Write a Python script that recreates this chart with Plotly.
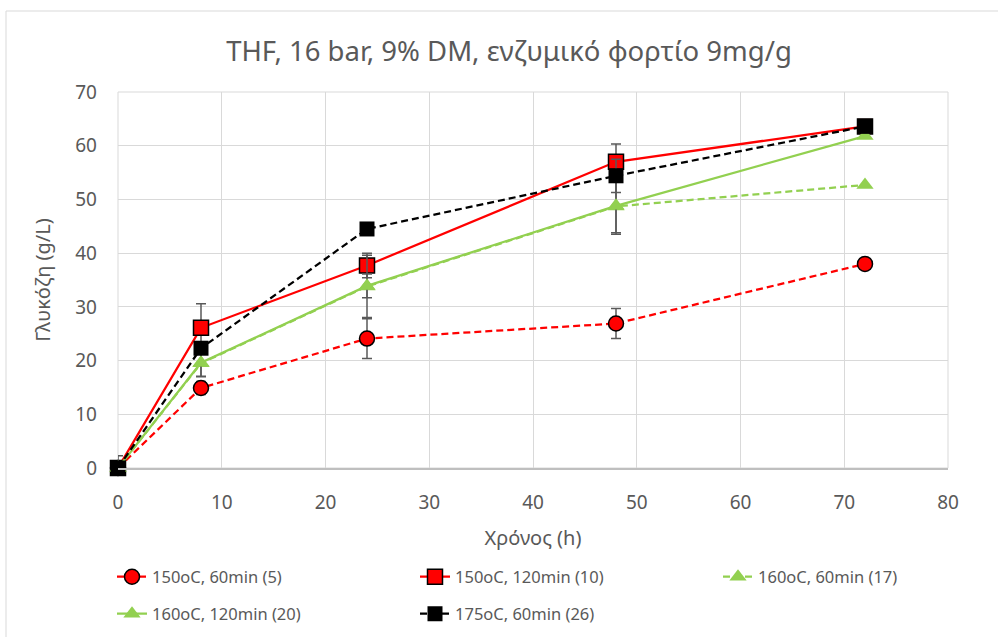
import plotly.graph_objects as go

hours = [0, 8, 24, 48, 72]

names = ["150oC, 60min (5)", "150oC, 120min (10)", "160oC, 60min (17)",
         "160oC, 120min (20)", "175oC, 60min (26)"]

glc_150_60 = [0, 14.9, 24.1, 26.9, 38.0]
err_150_60 = [0.5, 1.2, 3.7, 2.8, 0]
glc_150_120 = [0, 26.1, 37.7, 57.0, 63.6]
err_150_120 = [0, 4.5, 2.3, 3.3, 0]
glc_160_60 = [0, 19.5, 33.8, 48.7, 52.7]
err_160_60 = [0, 2.5, 5.8, 5.2, 0]
glc_160_120 = [0, 19.6, 33.9, 48.8, 61.8]
err_160_120 = [0, 2.5, 2.2, 5.0, 0]
glc_175_60 = [0, 22.3, 44.5, 54.4, 63.6]
err_175_60 = [2.3, 0.5, 0.5, 3.1, 0]

x_ticks = [0, 10, 20, 30, 40, 50, 60, 70, 80]
y_ticks = [0, 10, 20, 30, 40, 50, 60, 70]

RED = "#FF0000"
GREEN = "#92D050"
BLACK = "#000000"
GREY = "#595959"
FONT = "Noto Sans"
DASH = "7px,4px"

def err(vals):
    return dict(type="data", array=vals, visible=True, color=GREY, thickness=1.5, width=5)

series = [
    (glc_150_60, err_150_60, RED, DASH, "circle", 15, dict(color=BLACK, width=1.5), "legend"),
    (glc_150_120, err_150_120, RED, "solid", "square", 15, dict(color=BLACK, width=1.5), "legend"),
    (glc_160_60, err_160_60, GREEN, DASH, "triangle-up", 15, dict(width=0), "legend"),
    (glc_160_120, err_160_120, GREEN, "solid", "triangle-up", 15, dict(width=0), "legend2"),
    (glc_175_60, err_175_60, BLACK, DASH, "square", 15, dict(width=0), "legend2"),
]

fig = go.Figure()
for (vals, e, col, dash, sym, size, mline, leg), name in zip(series, names):
    fig.add_trace(go.Scatter(
        x=hours, y=vals, name=name, mode="lines+markers",
        line=dict(color=col, width=2.25, dash=dash),
        marker=dict(symbol=sym, size=size, color=col, line=mline),
        error_y=err(e), legend=leg, cliponaxis=False,
    ))

axis_common = dict(
    showgrid=True, gridcolor="#D9D9D9", gridwidth=1, zeroline=False,
    tickfont=dict(family=FONT, size=19, color=GREY), ticks="",
)

leg_common = dict(orientation="h", x=(112 - 118) / 830, xanchor="left", yanchor="middle",
                  entrywidth=258, entrywidthmode="pixels",
                  font=dict(family=FONT, size=16.5, color=GREY), bgcolor="rgba(0,0,0,0)")

fig.update_layout(
    width=998, height=637,
    margin=dict(l=118, r=50, t=92, b=169, autoexpand=False),
    paper_bgcolor="white", plot_bgcolor="white",
    font=dict(family=FONT, color=GREY),
    title=dict(text="THF, 16 bar, 9% DM, ενζυμικό φορτίο 9mg/g",
               x=0.51, xref="container", xanchor="center",
               y=1 - 51 / 637, yanchor="middle",
               font=dict(family=FONT, size=27.5, color=GREY)),
    xaxis=dict(range=[0, 80], tickvals=x_ticks, showline=True, linecolor="#BFBFBF",
               linewidth=1.5, ticklabelstandoff=16,
               title=dict(text="Χρόνος (h)", font=dict(family=FONT, size=20, color=GREY), standoff=17),
               **axis_common),
    yaxis=dict(range=[0, 70], tickvals=y_ticks, showline=False, ticklabelstandoff=20,
               title=dict(text="Γλυκόζη (g/L)", font=dict(family=FONT, size=20, color=GREY), standoff=19),
               **axis_common),
    legend=dict(y=(468 - 577) / 376, **leg_common),
    legend2=dict(y=(468 - 614) / 376, **leg_common),
    shapes=[
        dict(type="rect", xref="x domain", yref="y domain", x0=0, x1=1, y0=0, y1=1,
             line=dict(color="#D9D9D9", width=1), layer="below"),
        dict(type="rect", xref="paper", yref="paper", x0=(6 - 118) / 830, x1=(1010 - 118) / 830,
             y0=(468 - 650) / 376, y1=(468 - 11) / 376,
             line=dict(color="#D9D9D9", width=1), layer="below"),
    ],
)

fig.write_html("out.html")
